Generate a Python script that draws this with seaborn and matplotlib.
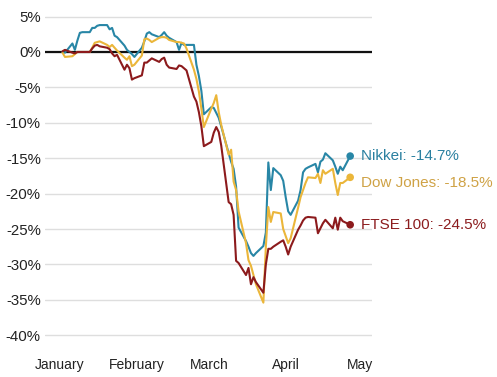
import numpy as np
import pandas as pd
import matplotlib
matplotlib.use("Agg")
import matplotlib.pyplot as plt
import seaborn as sns

# Trading days, Jan 2 - Apr 27, 2020
dates = pd.bdate_range("2020-01-02", "2020-04-27")

nikkei = [0.0, -0.1, 1.2, 0.3, 1.6, 2.7, 2.8, 2.8, 3.4, 3.4, 3.7, 3.8, 3.8, 3.2, 3.4, 2.3, 2.1, 0.9, 0.3, 0.0, -0.3, -0.7,
          0.6, 1.5, 2.6, 2.8, 2.5, 2.1, 2.4, 2.8, 2.3, 2.0, 1.4, 0.3, 1.3, 1.0, 1.0, 1.0, -1.8, -3.4, -5.5, -8.8,
          -7.8, -7.9, -8.6, -9.3, -10.5, -14.3, -15.5, -16.5, -19.0, -24.8, -26.7, -27.5, -28.4, -28.8, -28.4, -27.4, -25.5, -15.6, -19.5, -16.4, -17.4, -18.2,
          -20.5, -22.5, -23.0, -21.0, -19.5, -17.0, -16.5, -16.3, -15.8, -17.0, -15.5, -15.2, -14.3, -15.3, -16.2, -17.2, -16.2, -16.7, -14.7]
dow = [-0.1, -0.7, -0.6, -0.3, 0.0, 0.0, 0.0, 0.0, 0.6, 1.3, 1.4, 1.5, 1.0, 0.7, 1.0, 0.6, 0.2, -0.8, -1.1, -0.6, -2.0, -1.8,
       -0.5, 1.8, 1.9, 1.7, 1.4, 2.0, 2.1, 2.1, 2.0, 1.7, 1.4, 1.4, 1.3, 1.2, 0.5, -2.5, -3.8, -5.6, -8.0, -10.6,
       -8.0, -7.2, -6.1, -8.5, -10.3, -14.5, -13.8, -18.3, -19.5, -22.5, -27.0, -29.4, -30.2, -31.5, -32.8, -35.4, -27.5, -21.9, -24.0, -22.6, -22.8, -25.0,
       -26.0, -27.0, -26.3, -22.0, -20.5, -19.5, -18.5, -17.7, -17.8, -17.2, -18.5, -16.7, -17.2, -16.5, -18.5, -20.2, -18.5, -18.5, -17.7]
ftse = [0.1, 0.3, -0.1, -0.2, 0.0, 0.0, 0.0, 0.0, 0.5, 0.9, 1.0, 0.8, 0.6, 0.4, -0.2, -0.6, -0.4, -2.5, -1.8, -2.3, -3.9, -3.7,
        -3.3, -1.5, -1.5, -1.2, -0.9, -1.4, -1.0, -0.8, -1.8, -2.2, -2.4, -1.9, -2.0, -2.3, -2.6, -6.3, -7.0, -8.5, -10.5, -13.3,
        -12.7, -11.4, -10.6, -11.3, -13.2, -21.2, -21.5, -23.0, -29.5, -29.8, -31.5, -30.5, -32.8, -31.8, -32.5, -34.0, -30.0, -27.8, -27.8, -27.5, -26.8, -26.6,
        -27.5, -28.6, -27.5, -25.1, -24.5, -23.8, -23.4, -23.3, -23.4, -25.6, -24.9, -24.2, -23.7, -24.9, -23.4, -25.1, -23.4, -23.9, -24.4]

series_names = ["Nikkei", "Dow Jones", "FTSE 100"]
end_labels = ["Nikkei: -14.7%", "Dow Jones: -18.5%", "FTSE 100: -24.5%"]
label_values = [-14.7, -18.5, -24.5]
colors = ["#2886a6", "#ebb63a", "#8c1a1c"]
text_colors = ["#2a80a0", "#cfa245", "#8c1c1e"]
month_ticks = ["2020-01-01", "2020-02-01", "2020-03-01", "2020-04-01", "2020-05-01"]
month_labels = ["January", "February", "March", "April", "May"]
y_ticks = [5, 0, -5, -10, -15, -20, -25, -30, -35, -40]
y_labels = ["5%", "0%", "-5%", "-10%", "-15%", "-20%", "-25%", "-30%", "-35%", "-40%"]

origin = pd.Timestamp("2020-01-01")
day = np.asarray((dates - origin).days, dtype=float)
df = pd.DataFrame({
    "day": np.concatenate([day, day, day]),
    "value": np.concatenate([nikkei, dow, ftse]),
    "index": np.repeat(series_names, len(day)),
})

sns.set_theme(style="white")
plt.rcParams['font.family'] = ['Liberation Sans', 'DejaVu Sans']

fig = plt.figure(figsize=(4.97, 3.77), dpi=100)
ax = fig.add_axes([45 / 497, 1 - 342.3 / 377, 327 / 497, (342.3 - 9.5) / 377])

ax.axhline(0, color="#111111", lw=1.6, zorder=1.5)
sns.lineplot(data=df, x="day", y="value", hue="index", palette=colors,
             hue_order=series_names, lw=1.5, legend=False, ax=ax, zorder=2)

for vals, c, tc, lab, lv in zip([nikkei, dow, ftse], colors, text_colors, end_labels, label_values):
    ax.scatter([day[-1]], [vals[-1]], s=30, color=c, zorder=3, edgecolor="none")
    ax.text(121.4, lv, lab, color=tc, fontsize=11, va="center", ha="left")

ax.set_xlim(-6.05, 125.8)
ax.set_ylim(-41, 6)
ax.set_yticks(y_ticks)
ax.set_yticklabels(y_labels, fontsize=10.8, color="#222222")
ticks = [(pd.Timestamp(m) - origin).days for m in month_ticks]
ax.set_xticks(ticks)
ax.set_xticklabels(month_labels, fontsize=10, color="#222222")
ax.tick_params(axis="both", length=0)
ax.tick_params(axis="x", pad=11.5)
ax.tick_params(axis="y", pad=3)
ax.yaxis.grid(True, color="#dedede", lw=1)
ax.xaxis.grid(False)
for s in ax.spines.values():
    s.set_visible(False)
ax.set_xlabel("")
ax.set_ylabel("")

fig.savefig("out.png", dpi=100)
